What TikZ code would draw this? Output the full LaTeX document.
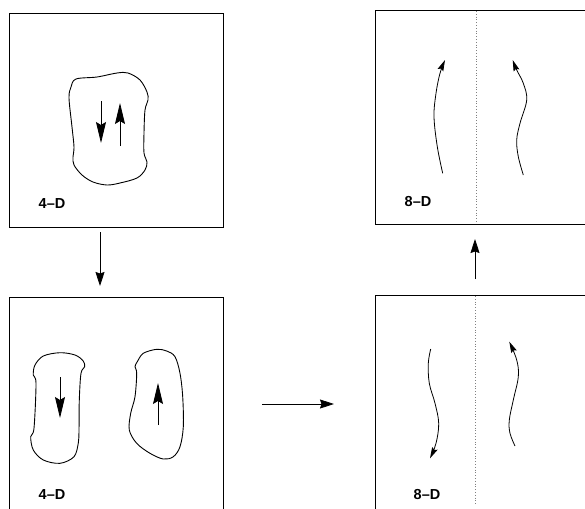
\documentclass[tikz,border=0pt]{standalone}
\usepackage{fontspec}
\setmainfont{Liberation Sans}
\usetikzlibrary{arrows.meta}
\tikzset{
  panel/.style={draw, line width=0.8pt, rectangle, inner sep=0pt, anchor=north west},
  lab/.style={font=\bfseries\fontsize{14.5}{17}\selectfont, inner sep=0pt},
  conn/.style={line width=0.8pt, -{Stealth[length=14pt,width=9pt,inset=1.5pt]}},
  blobarr/.style={line width=0.8pt, -{Stealth[length=21pt,width=10pt,inset=3pt]}},
  curvearr/.style={line width=0.8pt, -{Stealth[length=11pt,width=6pt,inset=1.5pt]}},
  blob/.style={line width=0.9pt},
  divider/.style={line width=0.8pt, gray, dash pattern=on 0.9pt off 1.9pt},
}
\begin{document}
\begin{tikzpicture}[x=1pt, y=-1pt]
\useasboundingbox (0,0) rectangle (585,508);
\clip (0,0) rectangle (585,508);

% panels
\node[panel, minimum width=214pt, minimum height=214pt] (p1) at (9,13) {};
\node[panel, minimum width=214pt, minimum height=230pt] (p3) at (9,297) {};
\node[panel, minimum width=230pt, minimum height=214pt] (p2) at (375,10) {};
\node[panel, minimum width=230pt, minimum height=230pt] (p4) at (375,295) {};

% labels
\node[lab] (l1) at (52,204) {4–D};
\node[lab] (l3) at (52,495) {4–D};
\node[lab] (l2) at (418,202) {8–D};
\node[lab] (l4) at (427,494) {8–D};

% dividers
\draw[divider] (476,11) -- (476,223);
\draw[divider] (475,296) -- (475,504);

% panel 1 blob
\draw[blob] plot[smooth cycle, tension=0.55] coordinates {
 (76,79) (97,77) (117,73) (128,73) (140,80) (147,92) (148,100) (145,110)
 (144,133) (144,153) (147,162) (145,170) (137,178) (120,183) (107,185)
 (93,182) (82,175) (74,165) (73,157) (74,147) (72,127) (69,98) (71,87)};
\coordinate (d1s) at (101,101); \coordinate (d1e) at (101,143);
\coordinate (u1s) at (120,146); \coordinate (u1e) at (120,103);
\draw[blobarr] (d1s) -- (d1e);
\draw[blobarr] (u1s) -- (u1e);

% panel 3 blobs
\draw[blob] plot[smooth cycle, tension=0.55] coordinates {
 (60,352.7) (75,355) (83,360.7) (84.7,366.7) (81,373.3) (79.3,400) (79,430)
 (78.3,443) (74,456.7) (60,463.3) (43.3,460) (33.3,450) (30.7,436.7)
 (34,428.3) (36,383.3) (33.3,375) (35,365) (43.3,356)};
\draw[blob] plot[smooth cycle, tension=0.55] coordinates {
 (156.7,349.3) (166.7,351) (175,356.7) (180,373.3) (182.7,396.7) (183.3,426.7)
 (180,446.7) (173.3,456.7) (163.3,459) (150,453.3) (136.7,443.3) (129.3,430)
 (130.7,413.3) (135,396.7) (136.7,373.3) (135,366.7) (137.3,361.7) (143.3,353.3)};
\coordinate (d3s) at (60,377); \coordinate (d3e) at (60,418);
\coordinate (u3s) at (158,425); \coordinate (u3e) at (158,383);
\draw[blobarr] (d3s) -- (d3e);
\draw[blobarr] (u3s) -- (u3e);

% panel 2 curves
\draw[curvearr] plot[smooth, tension=0.6] coordinates {
 (442.7,173.3) (437.3,146.7) (434,116.7) (436,93.3) (440,73.3) (445,60)};
\draw[curvearr] plot[smooth, tension=0.6] coordinates {
 (523.3,175) (518.3,156.7) (516.7,140) (520,123.3) (526.7,100) (523.3,83.3) (516.7,70) (512.7,60)};

% panel 4 curves
\draw[curvearr] plot[smooth, tension=0.6] coordinates {
 (430.7,349) (428.3,363.3) (429.3,383.3) (435,403.3) (438.7,423.3) (436,443.3) (430,458.3)};
\draw[curvearr] plot[smooth, tension=0.6] coordinates {
 (515,446) (510,433.3) (509.3,420) (513.3,400) (518.3,376.7) (516.7,360) (509.3,341.7)};

% connectors between panels
\coordinate (c1s) at (100,232); \coordinate (c1e) at (100,286);
\coordinate (c2s) at (262,404); \coordinate (c2e) at (334,404);
\coordinate (c3s) at (475,279); \coordinate (c3e) at (475,239);
\draw[conn] (c1s) -- (c1e);
\draw[conn] (c2s) -- (c2e);
\draw[conn] (c3s) -- (c3e);
\end{tikzpicture}
\end{document}
